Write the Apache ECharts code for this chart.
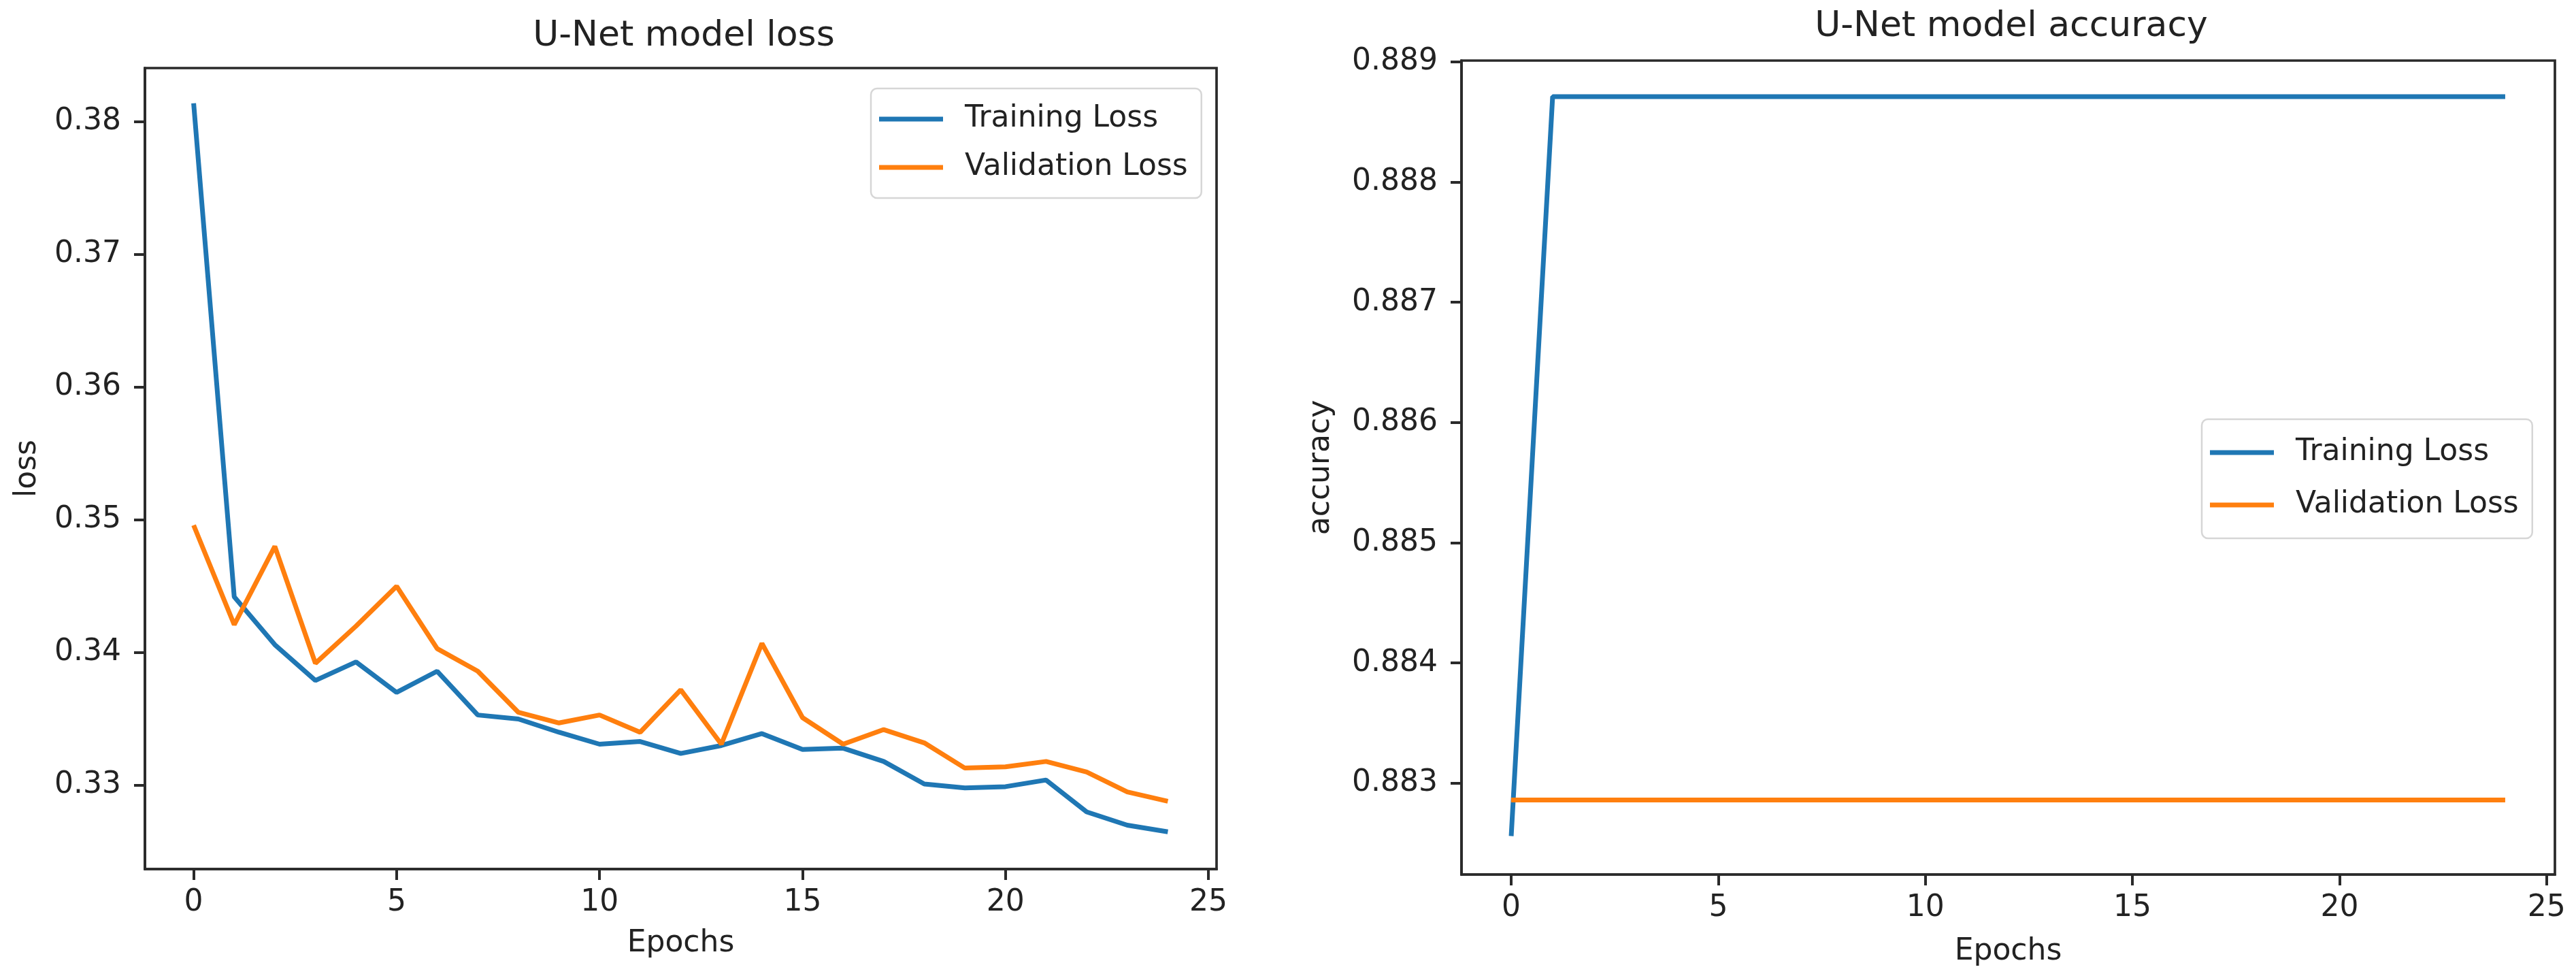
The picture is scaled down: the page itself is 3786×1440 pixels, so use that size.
<!doctype html>
<html>
<head>
    <meta charset="utf-8">
    <title>U-Net model loss / accuracy</title>
    <script src="https://cdn.jsdelivr.net/npm/echarts@6/dist/echarts.min.js"></script>
    <style>
        body{
            margin:0;
            padding:0;
            background:#fff;
        }
        #main{
            width:3786px;
            height:1440px;
        }
    </style>
</head>
<body>
<div id="main"></div>
<script>
    var epochs = [0,1,2,3,4,5,6,7,8,9,10,11,12,13,14,15,16,17,18,19,20,21,22,23,24];
    var epochTicks = [0, 5, 10, 15, 20, 25];

    var trainLoss = [0.3814, 0.3442, 0.3406, 0.3379, 0.3393, 0.3370, 0.3386, 0.3353, 0.3350, 0.3340,
                     0.3331, 0.3333, 0.3324, 0.3330, 0.3339, 0.3327, 0.3328, 0.3318, 0.3301, 0.3298,
                     0.3299, 0.3304, 0.3280, 0.3270, 0.3265];
    var valLoss   = [0.3496, 0.3421, 0.3480, 0.3392, 0.3420, 0.3450, 0.3403, 0.3386, 0.3355, 0.3347,
                     0.3353, 0.3340, 0.3372, 0.3331, 0.3407, 0.3351, 0.3331, 0.3342, 0.3332, 0.3313,
                     0.3314, 0.3318, 0.3310, 0.3295, 0.3288];
    var lossTicks = [0.33, 0.34, 0.35, 0.36, 0.37, 0.38];

    var trainAcc = [0.88256, 0.88871, 0.88871, 0.88871, 0.88871, 0.88871, 0.88871, 0.88871, 0.88871, 0.88871,
                    0.88871, 0.88871, 0.88871, 0.88871, 0.88871, 0.88871, 0.88871, 0.88871, 0.88871, 0.88871,
                    0.88871, 0.88871, 0.88871, 0.88871, 0.88871];
    var valAcc   = [0.88286, 0.88286, 0.88286, 0.88286, 0.88286, 0.88286, 0.88286, 0.88286, 0.88286, 0.88286,
                    0.88286, 0.88286, 0.88286, 0.88286, 0.88286, 0.88286, 0.88286, 0.88286, 0.88286, 0.88286,
                    0.88286, 0.88286, 0.88286, 0.88286, 0.88286];
    var accTicks = [0.883, 0.884, 0.885, 0.886, 0.887, 0.888, 0.889];

    var FONT = 'DejaVu Sans';
    var INK = '#222';
    var FRAME = '#2a2a2a';
    var BLUE = '#1f77b4';
    var ORANGE = '#ff7f0e';

    function pairs(ys){
        return epochs.map(function(e, i){ return [e, ys[i]]; });
    }

    function xAxisFor(idx){
        return {
            type: 'value',
            gridIndex: idx,
            min: -1.2,
            max: 25.2,
            name: 'Epochs',
            nameLocation: 'middle',
            nameGap: idx === 0 ? 88 : 92,
            nameTextStyle: { fontFamily: FONT, fontSize: 44, color: INK },
            splitLine: { show: false },
            axisLine: { show: true, onZero: false, lineStyle: { color: FRAME, width: 3.7 } },
            axisTick: { show: true, inside: false, length: 16, customValues: epochTicks,
                        lineStyle: { color: FRAME, width: 4 } },
            axisLabel: { customValues: epochTicks, margin: 28, fontFamily: FONT, fontSize: 44, color: INK }
        };
    }

    function yAxisFor(idx, name, min, max, ticks, digits, gap){
        return {
            type: 'value',
            gridIndex: idx,
            min: min,
            max: max,
            name: name,
            nameLocation: 'middle',
            nameGap: gap,
            nameTextStyle: { fontFamily: FONT, fontSize: 44, color: INK },
            splitLine: { show: false },
            axisLine: { show: true, onZero: false, lineStyle: { color: FRAME, width: 3.7 } },
            axisTick: { show: true, inside: false, length: 16, customValues: ticks,
                        lineStyle: { color: FRAME, width: 4 } },
            axisLabel: {
                customValues: ticks, margin: 35, fontFamily: FONT, fontSize: 44, color: INK,
                formatter: function(v){ return v.toFixed(digits); }
            }
        };
    }

    function legendAt(left, top, gap, padTop){
        return {
            orient: 'vertical',
            left: left,
            top: top,
            data: ['Training Loss', 'Validation Loss'],
            icon: 'rect',
            itemWidth: 94,
            itemHeight: 7,
            itemGap: gap,
            padding: [padTop, 20, padTop, 12],
            backgroundColor: 'rgba(255,255,255,0.85)',
            borderColor: '#d6d6d6',
            borderWidth: 2.5,
            borderRadius: 9,
            textStyle: { fontFamily: FONT, fontSize: 44, color: INK, lineHeight: 54, padding: [0, 0, 0, 27] }
        };
    }

    function lineSeries(name, idx, ys, color){
        return {
            name: name,
            type: 'line',
            xAxisIndex: idx,
            yAxisIndex: idx,
            data: pairs(ys),
            symbol: 'none',
            smooth: false,
            lineStyle: { color: color, width: 7 },
            itemStyle: { color: color },
            animation: false
        };
    }

    var chart = echarts.init(document.getElementById('main'));
    var option = {
        backgroundColor: '#fff',
        animation: false,
        title: [
            { text: 'U-Net model loss', left: 1000, top: 22, textAlign: 'center',
              textStyle: { fontFamily: FONT, fontSize: 52, fontWeight: 'normal', color: INK } },
            { text: 'U-Net model accuracy', left: 2951, top: 8, textAlign: 'center',
              textStyle: { fontFamily: FONT, fontSize: 52, fontWeight: 'normal', color: INK } }
        ],
        grid: [
            { left: 213, top: 100, width: 1575, height: 1177, show: true,
              borderColor: FRAME, borderWidth: 3.7, backgroundColor: '#fff' },
            { left: 2148, top: 89, width: 1607, height: 1196, show: true,
              borderColor: FRAME, borderWidth: 3.7, backgroundColor: '#fff' }
        ],
        legend: [
            legendAt(1280, 130, 17, 18),
            legendAt(3236, 616, 23, 22)
        ],
        xAxis: [xAxisFor(0), xAxisFor(1)],
        yAxis: [
            yAxisFor(0, 'loss', 0.32369, 0.38405, lossTicks, 2, 150),
            yAxisFor(1, 'accuracy', 0.88224, 0.88901, accTicks, 3, 184)
        ],
        series: [
            lineSeries('Training Loss', 0, trainLoss, BLUE),
            lineSeries('Validation Loss', 0, valLoss, ORANGE),
            lineSeries('Training Loss', 1, trainAcc, BLUE),
            lineSeries('Validation Loss', 1, valAcc, ORANGE)
        ]
    };
    chart.setOption(option, true);
</script>
</body>
</html>
